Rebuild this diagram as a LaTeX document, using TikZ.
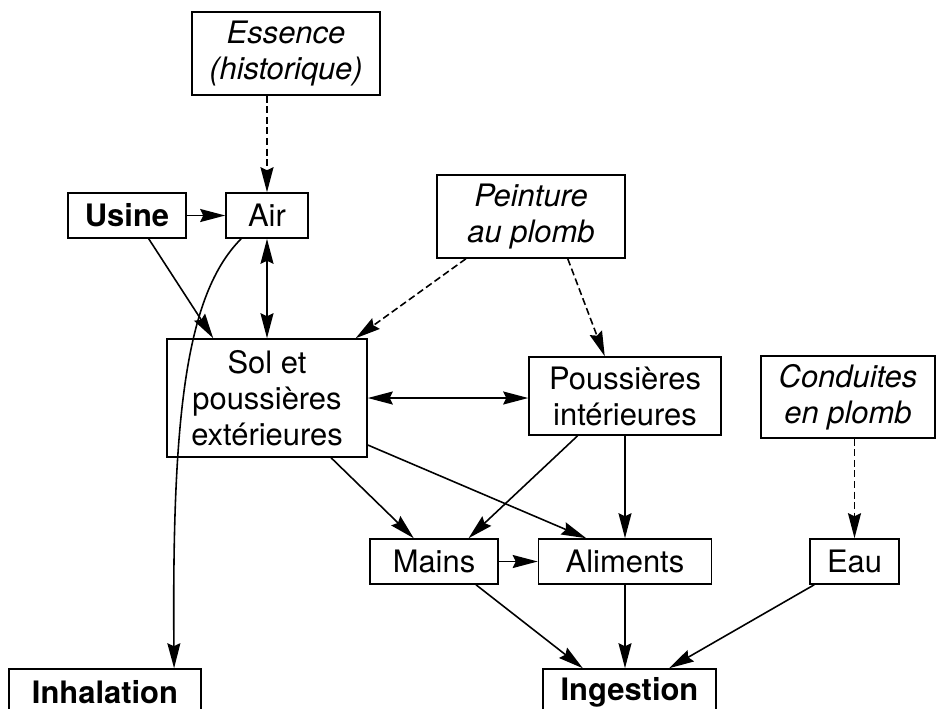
\documentclass[tikz,border=0pt]{standalone}
\usepackage{fontspec}
\setmainfont{TeX Gyre Heros}
\usetikzlibrary{arrows.meta}
\begin{document}
\begin{tikzpicture}[x=0.02cm, y=-0.02cm,
  box/.style={draw, line width=0.9pt, align=center, inner sep=0pt,
    font=\fontsize{17.6}{20.5}\selectfont},
  arr/.style={line width=0.9pt, -{Stealth[length=5mm,width=2.6mm,inset=0.6mm]}},
  dblarr/.style={line width=0.9pt, {Stealth[length=5mm,width=2.6mm,inset=0.6mm]}-{Stealth[length=5mm,width=2.6mm,inset=0.6mm]}},
  dasharr/.style={arr, dash pattern=on 4pt off 2pt}]
  \useasboundingbox (0,0) rectangle (936,708);
  \node[box, minimum width=3.76cm, minimum height=1.66cm] (ess) at (286,53.5) {\itshape Essence\\\itshape (historique)};
  \node[box, minimum width=2.36cm, minimum height=0.9cm] (usine) at (127,215.5) {\bfseries Usine};
  \node[box, minimum width=1.64cm, minimum height=0.9cm] (air) at (267,215.5) {Air};
  \node[box, minimum width=3.76cm, minimum height=1.66cm] (peint) at (531,216.5) {\itshape Peinture\\\itshape au plomb};
  \node[box, minimum width=4cm, minimum height=2.36cm] (sol) at (267,398) {Sol et\\poussières\\extérieures};
  \node[box, minimum width=3.84cm, minimum height=1.56cm] (pint) at (625,396) {Poussières\\intérieures};
  \node[box, minimum width=3.48cm, minimum height=1.64cm] (cond) at (848,397) {\itshape Conduites\\\itshape en plomb};
  \node[box, minimum width=2.56cm, minimum height=0.9cm] (mains) at (434,561.5) {Mains};
  \node[box, minimum width=3.46cm, minimum height=0.9cm] (alim) at (625,561.5) {Aliments};
  \node[box, minimum width=1.78cm, minimum height=0.9cm] (eau) at (854.5,561.5) {Eau};
  \node[box, minimum width=3.84cm, minimum height=0.92cm] (inhal) at (105,692) {\bfseries Inhalation};
  \node[box, minimum width=3.46cm, minimum height=0.92cm] (ingest) at (629.5,692) {\bfseries Ingestion};

  \draw[dasharr] (ess.south -| air.north) -- (air.north);
  \draw[arr] (usine.east) -- (air.west);
  \draw[arr] (usine.-47) -- (sol.132);
  \draw[arr] (air.-138) .. controls (185,295) and (172,420) .. (inhal.19);
  \draw[dblarr] (air.south) -- (sol.north);
  \draw[dasharr] (peint.-147) -- (sol.34);
  \draw[dasharr] (peint.-49) -- (pint.117);
  \draw[dblarr] (sol.east) -- (sol.east -| pint.west);
  \draw[arr] (sol.-43) -- (mains.131);
  \draw[arr] (sol.-25) -- (alim.149);
  \draw[arr] (pint.-140) -- (mains.34);
  \draw[arr] (pint.south) -- (alim.north);
  \draw[dasharr] (eau.north |- cond.south) -- (eau.north);
  \draw[arr] (mains.east) -- (alim.west);
  \draw[arr] (mains.-29) -- (ingest.153);
  \draw[arr] (alim.south) -- (alim.south |- ingest.north);
  \draw[arr] (eau.-150) -- (ingest.31);
\end{tikzpicture}
\end{document}
